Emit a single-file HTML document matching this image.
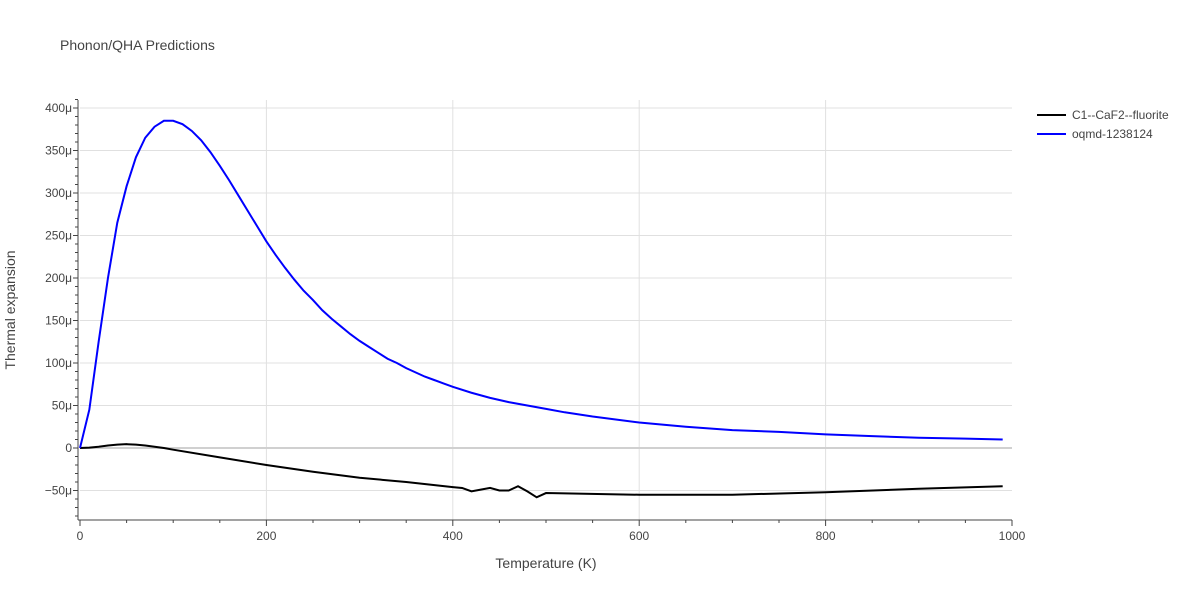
<!DOCTYPE html>
<html><head><meta charset="utf-8"><style>
body{margin:0;background:#fff;font-family:"Liberation Sans",sans-serif;}
svg text{font-family:"Liberation Sans",sans-serif;fill:#444;}
</style></head><body>
<svg id="c" width="1200" height="600" xmlns="http://www.w3.org/2000/svg">
<text x="60" y="50" font-size="14">Phonon/QHA Predictions</text>
<g id="grid"></g><g id="axes"></g><g id="series"></g>
<text x="546" y="568" font-size="14" text-anchor="middle">Temperature (K)</text>
<text transform="translate(15,310) rotate(-90)" font-size="14" text-anchor="middle">Thermal expansion</text>
<g>
<g><line x1="1037" y1="115" x2="1066" y2="115" stroke="#000" stroke-width="2"/><text x="1072" y="119" font-size="12">C1--CaF2--fluorite</text></g>
<g><line x1="1037" y1="134" x2="1066" y2="134" stroke="#0000ff" stroke-width="2"/><text x="1072" y="138" font-size="12">oqmd-1238124</text></g>
</g>
</svg>
<script>
const blueT=[0,10,20,30,40,50,60,70,80,90,100,110,120,130,140,150,160,170,180,190,200,210,220,230,240,250,260,270,280,290,300,310,320,330,340,350,360,370,380,390,400,420,440,460,480,500,520,550,600,650,700,750,800,850,900,950,990];
const blueV=[0,45,125,200,265,308,342,365,378,385,385,381,373,362,348,332,315,297,279,261,243,227,212,198,185,174,162,152,143,134,126,119,112,105,100,94,89,84,80,76,72,65,59,54,50,46,42,37,30,25,21,19,16,14,12,11,10];
const blackT=[0,10,20,30,40,50,60,70,80,90,100,150,200,250,300,350,400,410,420,430,440,450,460,470,480,490,500,600,700,800,900,990];
const blackV=[0,0.5,1.5,3,4,4.5,4,3,1.5,0,-2,-11,-20,-28,-35,-40,-46,-47,-51,-49,-47,-50,-50,-45,-51,-58,-53,-55,-55,-52,-48,-45];
const xTicks=[0,200,400,600,800,1000];
const yTicks=[-50,0,50,100,150,200,250,300,350,400];
const X=t=>80+t*0.932, Y=v=>448-v*0.85;
const NS="http://www.w3.org/2000/svg";
function mk(p,tag,a){const e=document.createElementNS(NS,tag);for(const k in a)e.setAttribute(k,a[k]);p.appendChild(e);return e;}
const g=document.getElementById('grid'),ax=document.getElementById('axes'),s=document.getElementById('series');
xTicks.forEach(t=>{
 if(t>0&&t<1000){const l=mk(g,'line',{x1:X(t),x2:X(t),y1:100,y2:520,stroke:'#e0e0e0'});
 
 }
 const tx=mk(ax,'text',{x:X(t),y:540,'font-size':12,'text-anchor':'middle'});tx.textContent=t;
 
 
});
for(let t=0;t<=1000;t+=50){mk(ax,'line',{x1:X(t),x2:X(t),y1:520,y2:t%200==0?526:523,stroke:'#444'});}
yTicks.forEach(v=>{
 const l=mk(g,'line',{x1:80,x2:1012,y1:Y(v),y2:Y(v),stroke:v==0?'#d0d0d0':'#e0e0e0','stroke-width':v==0?2:1});
 
 
 const tx=mk(ax,'text',{x:72,y:Y(v)+4,'font-size':12,'text-anchor':'end'});tx.textContent=(v<0?'\u2212'+(-v):v)+(v==0?'':'\u03bc');
 
 
});
for(let v=-80;v<=410;v+=10){mk(ax,'line',{x1:78,x2:v%50==0?73:75,y1:Y(v),y2:Y(v),stroke:'#444'});}
mk(ax,'line',{x1:78,x2:78,y1:100,y2:520,stroke:'#444'});
mk(ax,'line',{x1:78,x2:1012,y1:520,y2:520,stroke:'#444'});
function line(T,V,c,n){const p=mk(s,'polyline',{points:T.map((t,i)=>X(t)+','+Y(V[i])).join(' '),fill:'none',stroke:c,'stroke-width':2});
 
 }
line(blackT,blackV,'#000','series-c1-caf2-fluorite');
line(blueT,blueV,'#0000ff','series-oqmd-1238124');
</script>
</body></html>
